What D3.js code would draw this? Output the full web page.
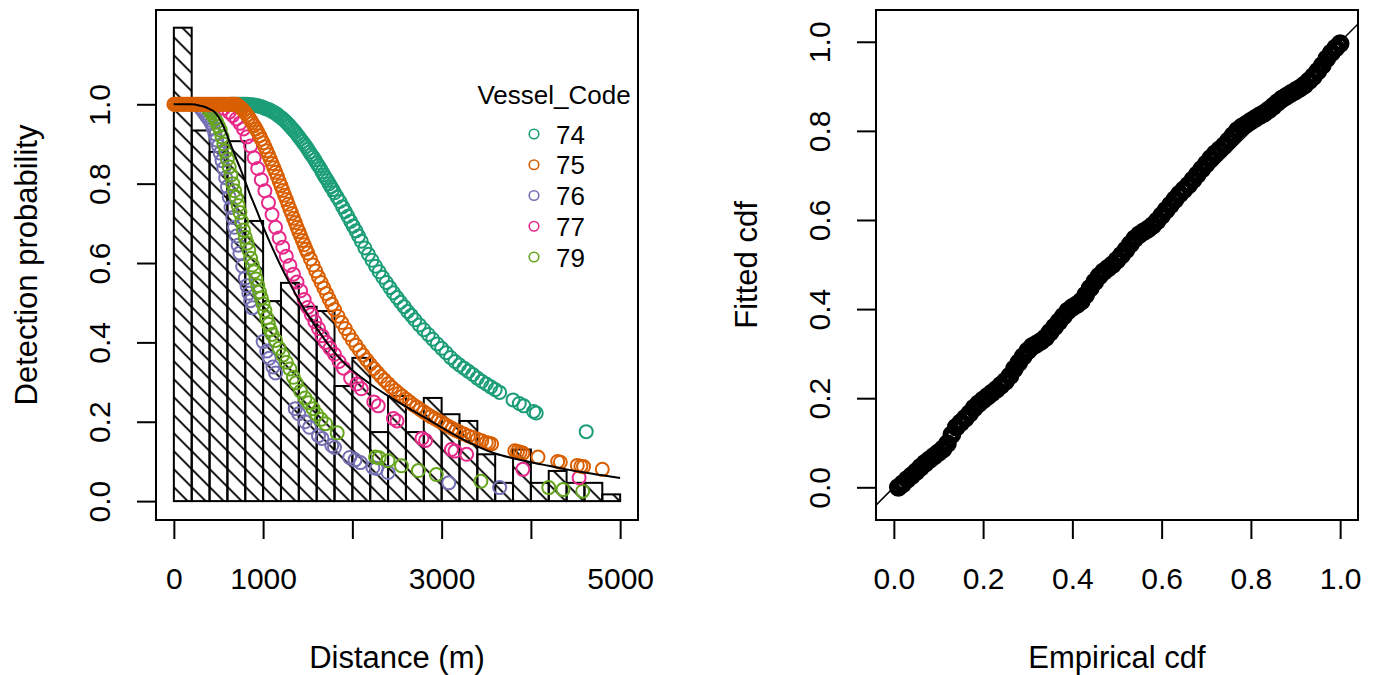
<!DOCTYPE html>
<html>
<head>
<meta charset="utf-8">
<script src="https://cdn.jsdelivr.net/npm/d3@7"></script>
<style>
  body { margin: 0; background: #fff; }
  text { font-family: "Liberation Sans", Arial, Helvetica, sans-serif; fill: #000; }
</style>
</head>
<body>
<svg width="1374" height="675"></svg>
<script>
// ---- left panel: histogram of distances (scaled) ----
const histBreaks = [0, 200, 400, 600, 800, 1000, 1200, 1400, 1600, 1800, 2000, 2200, 2400, 2600,
  2800, 3000, 3200, 3400, 3600, 3800, 4000, 4200, 4400, 4600, 4800, 5000];
const histHeights = [1.193, 0.934, 0.88, 0.907, 0.706, 0.504, 0.55, 0.49, 0.479, 0.29, 0.361, 0.174,
  0.265, 0.174, 0.26, 0.219, 0.202, 0.118, 0.046, 0.13, 0.046, 0.076, 0.046, 0.046, 0.017];

const vesselCodes = ['74', '75', '76', '77', '79'];
const vesselColors = ['#1b9e77', '#d95f02', '#7570b3', '#e7298a', '#66a61e'];

// [distance, detection probability] for each detection
const vessel74 = [[640,1],[660,1],[680,1],[700,1],[720,1],[740,1],[760,1],[780,1],[800,1],[820,1],
  [840,0.999],[860,0.999],[880,0.998],[900,0.998],[920,0.997],[940,0.996],[960,0.995],[980,0.994],
  [1000,0.992],[1020,0.99],[1040,0.988],[1060,0.987],[1080,0.985],[1100,0.982],[1120,0.98],[1140,0.977],
  [1160,0.974],[1180,0.97],[1200,0.967],[1220,0.963],[1240,0.959],[1260,0.955],[1280,0.95],[1300,0.945],
  [1320,0.94],[1340,0.935],[1360,0.93],[1380,0.924],[1400,0.918],[1420,0.912],[1440,0.906],[1460,0.9],
  [1480,0.894],[1500,0.887],[1520,0.88],[1540,0.873],[1560,0.867],[1580,0.86],[1600,0.852],[1620,0.845],
  [1640,0.838],[1660,0.83],[1680,0.822],[1700,0.815],[1720,0.808],[1740,0.8],[1760,0.792],[1780,0.785],
  [1800,0.777],[1830,0.766],[1860,0.755],[1890,0.742],[1920,0.73],[1950,0.718],[1980,0.705],[2010,0.693],
  [2040,0.681],[2070,0.668],[2100,0.655],[2140,0.638],[2180,0.622],[2220,0.607],[2260,0.592],[2300,0.578],
  [2340,0.564],[2380,0.551],[2420,0.538],[2460,0.525],[2500,0.513],[2540,0.501],[2580,0.49],[2620,0.478],
  [2660,0.468],[2700,0.457],[2750,0.444],[2800,0.432],[2850,0.42],[2900,0.408],[2950,0.396],[3000,0.385],
  [3050,0.374],[3100,0.362],[3150,0.352],[3200,0.343],[3250,0.335],[3300,0.327],[3350,0.319],[3400,0.31],
  [3450,0.302],[3500,0.295],[3550,0.288],[3600,0.281],[3650,0.274],[3800,0.255],[3870,0.246],[3920,0.24],
  [4030,0.226],[4060,0.222],[4620,0.175]];

const vessel75 = [[0,1],[20,1],[40,1],[60,1],[80,1],[100,1],[120,1],[140,1],[160,1],[180,1],[200,1],
  [220,1],[240,1],[260,1],[280,1],[300,1],[320,1],[340,1],[360,1],[380,1],[400,1],[420,1],[440,1],
  [460,1],[480,1],[500,1],[520,1],[540,1],[560,1],[580,1],[600,1],[620,1],[640,1],[660,1],[680,1],[700,1],
  [720,0.997],[740,0.993],[760,0.989],[780,0.984],[800,0.979],[820,0.973],[840,0.967],[860,0.96],
  [880,0.953],[900,0.946],[920,0.938],[940,0.93],[960,0.921],[980,0.912],[1000,0.903],[1020,0.893],
  [1040,0.883],[1060,0.873],[1080,0.862],[1100,0.851],[1120,0.84],[1140,0.829],[1160,0.818],[1180,0.806],
  [1200,0.795],[1220,0.783],[1240,0.771],[1260,0.76],[1280,0.748],[1300,0.736],[1320,0.725],[1340,0.713],
  [1360,0.702],[1380,0.69],[1400,0.679],[1420,0.668],[1440,0.657],[1460,0.646],[1480,0.635],[1500,0.625],
  [1530,0.61],[1560,0.595],[1590,0.58],[1620,0.565],[1650,0.551],[1680,0.537],[1710,0.523],[1740,0.509],
  [1770,0.496],[1800,0.483],[1840,0.466],[1880,0.45],[1920,0.435],[1960,0.42],[2000,0.406],[2040,0.393],
  [2080,0.38],[2120,0.368],[2160,0.356],[2200,0.345],[2240,0.334],[2280,0.324],[2320,0.314],[2360,0.305],
  [2400,0.296],[2440,0.287],[2480,0.279],[2520,0.271],[2560,0.264],[2600,0.257],[2640,0.25],[2680,0.243],
  [2720,0.237],[2760,0.231],[2800,0.225],[2840,0.219],[2880,0.213],[2920,0.208],[2960,0.203],[3000,0.198],
  [3040,0.193],[3080,0.188],[3120,0.183],[3160,0.178],[3200,0.174],[3250,0.169],[3300,0.164],[3350,0.16],
  [3400,0.156],[3450,0.152],[3500,0.148],[3530,0.146],[3560,0.144],[3820,0.127],[3850,0.125],[3880,0.123],
  [3910,0.121],[4080,0.111],[4300,0.1],[4330,0.098],[4520,0.09],[4560,0.088],[4590,0.087],[4800,0.08]];

const vessel76 = [[300,0.99],[320,0.985],[340,0.978],[360,0.972],[380,0.966],[400,0.96],[420,0.952],
  [440,0.94],[460,0.926],[480,0.91],[500,0.895],[520,0.877],[540,0.858],[560,0.838],[580,0.815],[600,0.792],
  [620,0.766],[640,0.74],[660,0.715],[680,0.69],[700,0.668],[720,0.645],[740,0.625],[770,0.592],[800,0.562],
  [820,0.543],[840,0.524],[860,0.505],[880,0.487],[1000,0.402],[1040,0.378],[1070,0.36],[1110,0.338],
  [1140,0.323],[1360,0.233],[1400,0.22],[1470,0.2],[1520,0.186],[1620,0.165],[1660,0.158],[1770,0.14],
  [1800,0.135],[1970,0.11],[2030,0.104],[2090,0.097],[2230,0.085],[2270,0.082],[2400,0.072],[3080,0.046],
  [3650,0.034]];

const vessel77 = [[560,0.99],[620,0.98],[660,0.972],[700,0.963],[740,0.952],[780,0.938],[820,0.918],
  [860,0.895],[900,0.865],[940,0.838],[980,0.81],[1020,0.782],[1060,0.752],[1100,0.722],[1140,0.69],
  [1180,0.663],[1220,0.64],[1260,0.617],[1300,0.594],[1340,0.572],[1380,0.552],[1420,0.53],[1460,0.508],
  [1500,0.488],[1540,0.47],[1580,0.452],[1620,0.435],[1660,0.417],[1700,0.4],[1750,0.385],[1800,0.37],
  [1850,0.352],[1900,0.335],[1980,0.31],[2050,0.295],[2100,0.283],[2240,0.25],[2290,0.24],[2460,0.208],
  [2500,0.202],[2780,0.158],[2820,0.153],[3110,0.13],[3150,0.126],[3280,0.118],[3910,0.08],[4540,0.059]];

const vessel79 = [[20,1],[380,0.99],[400,0.985],[420,0.978],[440,0.971],[460,0.964],[480,0.955],[500,0.945],
  [520,0.935],[540,0.918],[560,0.9],[580,0.882],[600,0.862],[620,0.842],[640,0.822],[660,0.8],[680,0.782],
  [700,0.765],[720,0.745],[740,0.727],[760,0.705],[780,0.683],[800,0.665],[820,0.65],[840,0.632],[860,0.612],
  [880,0.595],[900,0.578],[920,0.56],[940,0.543],[960,0.527],[980,0.512],[1000,0.497],[1020,0.48],
  [1040,0.462],[1060,0.446],[1080,0.432],[1100,0.42],[1140,0.405],[1180,0.385],[1220,0.368],[1260,0.35],
  [1300,0.333],[1340,0.312],[1370,0.298],[1420,0.277],[1470,0.26],[1510,0.248],[1560,0.233],[1600,0.219],
  [1650,0.206],[1700,0.195],[1830,0.172],[2260,0.111],[2300,0.109],[2400,0.102],[2550,0.089],[2740,0.077],
  [2940,0.067],[3440,0.05],[4200,0.034],[4360,0.029],[4580,0.025]];

// average fitted detection function
const fittedLine = [[0,1],[100,1],[200,1],[300,0.996],[350,0.993],[400,0.988],[450,0.982],[500,0.968],
  [550,0.947],[600,0.92],[650,0.891],[700,0.862],[750,0.835],[800,0.805],[850,0.775],[900,0.748],
  [950,0.72],[1000,0.692],[1100,0.64],[1200,0.592],[1300,0.548],[1400,0.507],[1500,0.47],[1600,0.436],
  [1700,0.404],[1800,0.375],[1900,0.35],[2000,0.33],[2200,0.295],[2400,0.265],[2600,0.238],[2800,0.212],
  [3000,0.186],[3200,0.16],[3400,0.138],[3600,0.12],[3800,0.108],[4000,0.098],[4200,0.089],[4400,0.08],
  [4600,0.072],[4800,0.065],[5000,0.058]];

const distTicks = [0, 1000, 2000, 3000, 4000, 5000];
const distTickLabels = ['0', '1000', '', '3000', '', '5000'];
const probTicks = [0, 0.2, 0.4, 0.6, 0.8, 1.0];

// ---- right panel: Q-Q plot ----
const empiricalCdf = [0.01,0.02,0.03,0.04,0.05,0.06,0.07,0.08,0.09,0.10,0.11,0.12,0.13,0.14,0.15,0.16,0.17,
  0.18,0.19,0.20,0.21,0.22,0.23,0.24,0.25,0.26,0.27,0.28,0.29,0.30,0.31,0.32,0.33,0.34,0.35,0.36,0.37,0.38,
  0.39,0.40,0.41,0.42,0.43,0.44,0.45,0.46,0.47,0.48,0.49,0.50,0.51,0.52,0.53,0.54,0.55,0.56,0.57,0.58,0.59,
  0.60,0.61,0.62,0.63,0.64,0.65,0.66,0.67,0.68,0.69,0.70,0.71,0.72,0.73,0.74,0.75,0.76,0.77,0.78,0.79,0.80,
  0.81,0.82,0.83,0.84,0.85,0.86,0.87,0.88,0.89,0.90,0.91,0.92,0.93,0.94,0.95,0.96,0.97,0.98,0.99,1.00];
const fittedCdf = [0.000,0.008,0.018,0.026,0.035,0.045,0.054,0.062,0.070,0.078,0.086,0.098,0.118,0.135,
  0.145,0.155,0.166,0.178,0.188,0.196,0.204,0.212,0.220,0.229,0.238,0.250,0.266,0.280,0.294,0.306,0.316,
  0.322,0.328,0.336,0.348,0.360,0.372,0.384,0.396,0.404,0.410,0.418,0.432,0.447,0.461,0.474,0.484,0.492,
  0.500,0.510,0.521,0.533,0.546,0.558,0.567,0.574,0.580,0.588,0.598,0.610,0.622,0.634,0.646,0.658,0.668,
  0.678,0.690,0.702,0.714,0.726,0.738,0.749,0.758,0.767,0.778,0.790,0.801,0.809,0.815,0.822,0.828,0.834,
  0.840,0.847,0.855,0.864,0.872,0.878,0.884,0.890,0.896,0.903,0.912,0.922,0.934,0.947,0.962,0.975,0.986,0.996];
const cdfTicks = [0, 0.2, 0.4, 0.6, 0.8, 1.0];

const svg = d3.select('svg');
const fmt1 = d3.format('.1f');

// hatch pattern for the histogram
const defs = svg.append('defs');
const pat = defs.append('pattern')
    .attr('id', 'hatch')
    .attr('patternUnits', 'userSpaceOnUse')
    .attr('x', 10.6)
    .attr('width', 18)
    .attr('height', 18);
pat.append('path')
    .attr('d', 'M-2,-2L20,20M-2,16L2,20M16,-2L20,2')
    .attr('stroke', '#000')
    .attr('stroke-width', 1.9);

// ================= LEFT PANEL =================
const xL = d3.scaleLinear().domain([-200, 5200]).range([156, 638]);
const yL = d3.scaleLinear().domain([-0.0476, 1.2376]).range([520, 10]);

const left = svg.append('g');

left.selectAll('rect.bar')
  .data(histHeights)
  .enter()
  .append('rect')
    .attr('class', 'bar')
    .attr('x', (d, i) => xL(histBreaks[i]))
    .attr('y', d => yL(d))
    .attr('width', (d, i) => xL(histBreaks[i + 1]) - xL(histBreaks[i]))
    .attr('height', d => yL(0) - yL(d))
    .attr('fill', 'url(#hatch)')
    .attr('stroke', '#000')
    .attr('stroke-width', 2);

// points, drawn vessel by vessel
const vessels = [vessel74, vessel75, vessel76, vessel77, vessel79];
const drawOrder = [0, 2, 4, 3, 1];
drawOrder.forEach(k => {
  left.append('g').selectAll('circle')
    .data(vessels[k])
    .enter()
    .append('circle')
      .attr('cx', d => xL(d[0]))
      .attr('cy', d => yL(d[1]))
      .attr('r', 6.5)
      .attr('fill', 'none')
      .attr('stroke', vesselColors[k])
      .attr('stroke-width', 2);
});

const lineL = d3.line()
    .x(d => xL(d[0]))
    .y(d => yL(d[1]))
    .curve(d3.curveMonotoneX);
left.append('path')
    .datum(fittedLine)
    .attr('d', lineL)
    .attr('fill', 'none')
    .attr('stroke', '#000')
    .attr('stroke-width', 2);

// box
left.append('rect')
    .attr('x', 156).attr('y', 10)
    .attr('width', 482).attr('height', 510)
    .attr('fill', 'none').attr('stroke', '#000').attr('stroke-width', 2);

// axes
const axL_x = left.append('g')
    .attr('transform', 'translate(0,520)')
    .call(d3.axisBottom(xL).tickValues(distTicks).tickSize(19)
      .tickFormat((d, i) => distTickLabels[i]));
const axL_y = left.append('g')
    .attr('transform', 'translate(156,0)')
    .call(d3.axisLeft(yL).tickValues(probTicks).tickSize(19).tickFormat(fmt1));

// legend
const legend = left.append('g');
legend.append('text')
    .attr('x', 554).attr('y', 104)
    .attr('text-anchor', 'middle')
    .style('font-size', '26px')
    .text('Vessel_Code');
const legY = d3.scaleLinear().domain([0, 4]).range([134, 257]);
const items = legend.selectAll('g.item')
  .data(vesselCodes)
  .enter()
  .append('g')
    .attr('class', 'item')
    .attr('transform', (d, i) => `translate(0,${legY(i)})`);
items.append('circle')
    .attr('cx', 534).attr('cy', 0).attr('r', 4.8)
    .attr('fill', 'none')
    .attr('stroke', (d, i) => vesselColors[i])
    .attr('stroke-width', 1.6);
items.append('text')
    .attr('x', 556).attr('y', 9.5)
    .style('font-size', '26px')
    .text(d => d);

left.append('text')
    .attr('x', 397).attr('y', 668)
    .attr('text-anchor', 'middle')
    .style('font-size', '31px')
    .text('Distance (m)');
left.append('text')
    .attr('transform', 'translate(37,265) rotate(-90)')
    .attr('text-anchor', 'middle')
    .style('font-size', '31px')
    .text('Detection probability');

// ================= RIGHT PANEL =================
const xR = d3.scaleLinear().domain([-0.04, 1.04]).range([876, 1358]);
const yR = d3.scaleLinear().domain([-0.0734, 1.0713]).range([520, 10]);

const right = svg.append('g');
defs.append('clipPath').attr('id', 'clipR')
  .append('rect').attr('x', 876).attr('y', 10).attr('width', 482).attr('height', 510);

right.append('g').selectAll('circle')
  .data(empiricalCdf)
  .enter()
  .append('circle')
    .attr('cx', d => xR(d))
    .attr('cy', (d, i) => yR(fittedCdf[i]))
    .attr('r', 6.4)
    .attr('fill', 'none')
    .attr('stroke', '#000')
    .attr('stroke-width', 6);

right.append('line')
    .attr('clip-path', 'url(#clipR)')
    .attr('x1', xR(-0.2)).attr('y1', yR(-0.2))
    .attr('x2', xR(1.2)).attr('y2', yR(1.2))
    .attr('stroke', '#000').attr('stroke-width', 1.5);

right.append('rect')
    .attr('x', 876).attr('y', 10)
    .attr('width', 482).attr('height', 510)
    .attr('fill', 'none').attr('stroke', '#000').attr('stroke-width', 2);

const axR_x = right.append('g')
    .attr('transform', 'translate(0,520)')
    .call(d3.axisBottom(xR).tickValues(cdfTicks).tickSize(19).tickFormat(fmt1));
const axR_y = right.append('g')
    .attr('transform', 'translate(876,0)')
    .call(d3.axisLeft(yR).tickValues(cdfTicks).tickSize(19).tickFormat(fmt1));

right.append('text')
    .attr('x', 1117).attr('y', 668)
    .attr('text-anchor', 'middle')
    .style('font-size', '31px')
    .text('Empirical cdf');
right.append('text')
    .attr('transform', 'translate(757,265) rotate(-90)')
    .attr('text-anchor', 'middle')
    .style('font-size', '31px')
    .text('Fitted cdf');

// axis styling, R-like
[axL_x, axR_x].forEach(ax => {
  ax.select('.domain').remove();
  ax.selectAll('.tick line').attr('stroke-width', 2);
  ax.selectAll('.tick text')
    .attr('y', 69).attr('dy', null)
    .attr('font-family', null).attr('font-size', null)
    .style('font-size', '30px');
});
[axL_y, axR_y].forEach(ax => {
  ax.select('.domain').remove();
  ax.selectAll('.tick line').attr('stroke-width', 2);
  ax.selectAll('.tick text')
    .attr('x', null).attr('dy', null)
    .attr('text-anchor', 'middle')
    .attr('transform', 'translate(-46,0) rotate(-90)')
    .attr('font-family', null).attr('font-size', null)
    .style('font-size', '30px');
});
</script>
</body>
</html>
